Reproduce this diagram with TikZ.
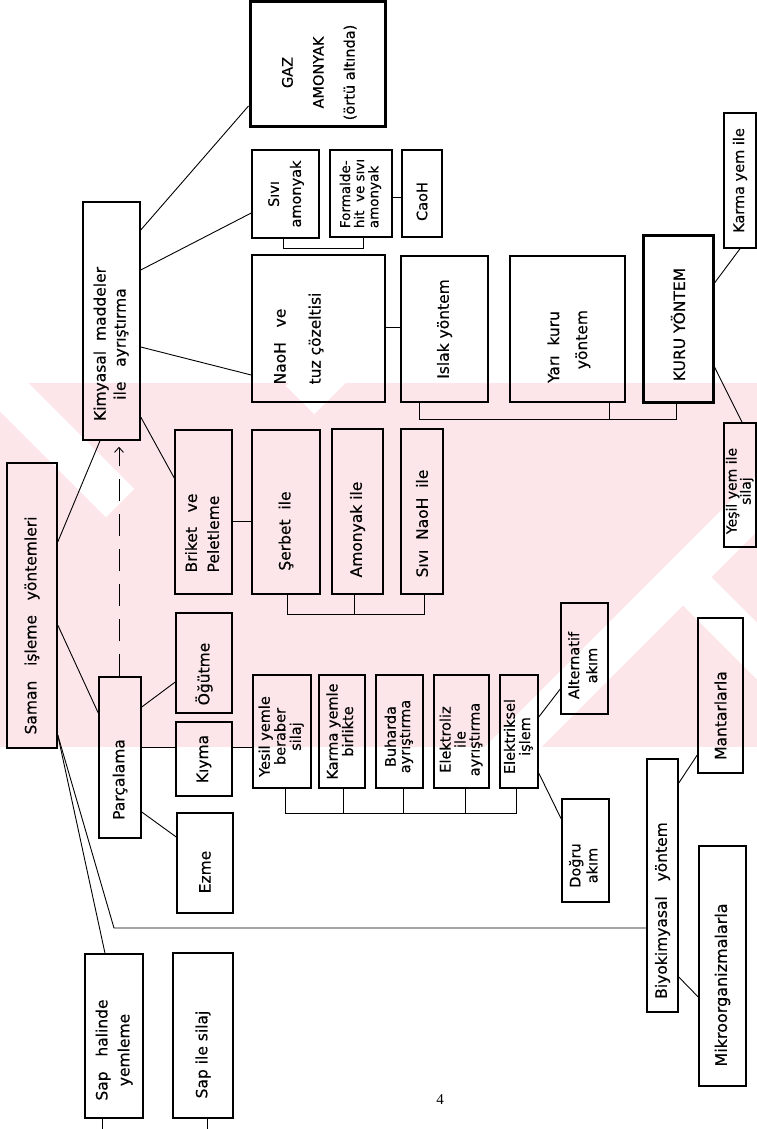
\documentclass[tikz,border=0pt]{standalone}
\usepackage{fontspec}
\setmainfont{DejaVu Sans}[FakeBold=0.4]
\newfontfamily\pgserif{Liberation Serif}
\usetikzlibrary{arrows.meta}
\definecolor{wmpink}{HTML}{FCE6EA}
\tikzset{
  bx/.style={draw, line width=1.5pt, inner sep=0pt, rectangle},
  thickbx/.style={line width=3pt},
  ln/.style={line width=0.9pt},
  dasharrow/.style={line width=0.9pt, dash pattern=on 22pt off 13pt, -{Straight Barb[length=5pt,width=9pt]}},
  fa/.style={font=\fontsize{15.5}{20}\selectfont},
}
\newcommand{\ctab}[1]{\begin{tabular}{@{}c@{}}#1\end{tabular}}
\newcommand{\ltab}[1]{\begin{tabular}{@{}l@{}}#1\end{tabular}}
\newcommand{\sh}[1]{\hspace*{#1pt}}
\newcommand{\bx}[7][]{\node[bx,fa,#1,minimum width={(#5)-(#3)},minimum height={(#6)-(#4)}] (#2) at ({((#3)+(#5))/2},{((#4)+(#6))/2}) {\rotatebox{90}{#7}};}
\begin{document}
\begin{tikzpicture}[x=1pt,y=-1pt]
\useasboundingbox (0,0) rectangle (757,1129);
% watermark
\begin{scope}
\clip (0,383) rectangle (757,747);
\fill[wmpink] (0,383) rectangle (757,747);
\draw[white,line width=40pt] (300,400) -- (900,-200);
\draw[white,line width=40pt] (1260,0) -- (300,960);
\draw[white,line width=40pt] (683,577) -- (900,794);
\draw[white,line width=40pt] (0,383) -- (120,503);
\end{scope}
% boxes
\bx[thickbx]{gaz}{250}{2}{385}{127}{\fontsize{14.5}{31}\selectfont\ctab{GAZ\\AMONYAK\\(örtü altında)}\sh{16}}
\bx{kim}{83}{202}{140}{440}{\fontsize{15.5}{20}\selectfont\ctab{Kimyasal~~maddeler\\ile~~~ayrıştırma}\sh{46}}
\bx{samo}{252}{150}{319}{238}{\fontsize{14.5}{22}\selectfont\ctab{Sıvı\\amonyak}}
\bx{form}{330}{150}{392}{237}{\fontsize{13.5}{13}\selectfont\ltab{Formalde-\\hit~ ve sıvı\\amonyak}}
\bx{caoh}{402}{150}{442}{237}{\fontsize{14.5}{16}\selectfont CaoH\sh{16}}
\bx{naoh}{252}{255}{385}{402}{\fontsize{15.5}{35}\selectfont\ltab{NaoH~~~ve\\tuz çözeltisi\\[10pt]\mbox{}}\sh{20}}
\bx{isl}{401}{256}{488}{402}{Islak yöntem}
\bx{yari}{510}{256}{625}{402}{\fontsize{15.5}{28}\selectfont\ctab{Yarı~~kuru\\~~~yöntem}\sh{36}}
\bx[thickbx]{kuru}{643}{235}{713}{402}{KURU YÖNTEM\sh{12}}
\bx{karma}{724}{113}{756}{248}{\fontsize{14.5}{16}\selectfont Karma yem ile}
\bx{yesil}{724}{423}{756}{547}{\fontsize{14}{11.5}\selectfont\ctab{Yeşil yem ile\\silaj}\sh{12}}
\bx{bri}{175}{430}{232}{594}{\fontsize{15.5}{22}\selectfont\ltab{Briket~~ ve\\Peletleme}\sh{42}}
\bx{ser}{252}{430}{320}{594}{Şerbet~~ile\sh{38}}
\bx{amy}{332}{429}{383}{594}{Amonyak ile\sh{36}}
\bx{sna}{401}{429}{443}{594}{Sıvı~~NaoH~~ile\sh{24}}
\bx{saman}{7}{463}{57}{748}{Saman~~~işleme~~~yöntemleri\sh{40}}
\bx{parc}{99}{677}{141}{838}{Parçalama\sh{44}}
\bx{ogut}{176}{613}{232}{713}{Öğütme\sh{22}}
\bx{kiyma}{176}{722}{232}{796}{Kıyma}
\bx{ezme}{177}{813}{233}{913}{Ezme\sh{18}}
\bx{yy}{253}{675}{311}{788}{\fontsize{14.5}{15}\selectfont\ctab{Yesil yemle\\beraber\\silaj}\sh{10}}
\bx{ky}{319}{675}{365}{788}{\fontsize{14.5}{15}\selectfont\ctab{Karma yemle\\birlikte}}
\bx{buh}{376}{675}{423}{788}{\fontsize{14.5}{14}\selectfont\ctab{Buharda\\ayrıştırma}\sh{10}}
\bx{elz}{434}{675}{489}{788}{\fontsize{14.5}{13}\selectfont\ctab{Elektroliz\\ile\\ayrıştırma}\sh{16}}
\bx{ek}{500}{675}{538}{788}{\fontsize{14.5}{14}\selectfont\ctab{Elektriksel\\işlem}\sh{10}}
\bx{alt}{561}{603}{608}{714}{\fontsize{14.5}{18}\selectfont\ctab{Alternatif\\akım}\sh{14}}
\bx{dog}{562}{799}{609}{902}{\fontsize{14.5}{17}\selectfont\ctab{Doğru\\akım}\sh{30}}
\bx{biyo}{647}{759}{678}{1012}{Biyokimyasal~~~yöntem\sh{50}}
\bx{man}{698}{618}{743}{773}{Mantarlarla\sh{40}}
\bx{mik}{699}{846}{746}{1086}{\fontsize{16}{20}\selectfont Mikroorganizmalarla\sh{38}}
\bx{saphal}{85}{954}{143}{1118}{\fontsize{15.5}{22}\selectfont\ctab{Sap~~ halinde\\yemleme}\sh{28}}
\bx{sapsil}{173}{953}{233}{1118}{Sap ile silaj\sh{38}}
\node[font=\pgserif\fontsize{15}{15}\selectfont] (pg) at (440,1100) {4};
% connectors
\draw[ln] (kim.east |- 0,230) -- (gaz.west |- 0,106);
\draw[ln] (kim.east |- 0,270) -- (samo.west |- 0,213);
\draw[ln] (kim.east |- 0,347) -- (naoh.west |- 0,375);
\draw[ln] (kim.east |- 0,417) -- (bri.west |- 0,478);
\draw[ln] (saman.east |- 0,542) -- (kim.south -| 100,0);
\draw[ln] (saman.east |- 0,625) -- (parc.west |- 0,713);
\draw[dasharrow, shorten >=6pt] (parc.north -| 119,0) -- (kim.south -| 119,0);
\draw[ln] (parc.east |- 0,707) -- (ogut.west |- 0,682);
\draw[ln] (parc.east |- 0,747) -- (kiyma.west |- 0,747);
\draw[ln] (kiyma.east |- 0,747) -- (yy.west |- 0,747);
\draw[ln] (parc.east |- 0,812) -- (ezme.west |- 0,837);
\draw[ln] (bri.east |- 0,521) -- (ser.west |- 0,521);
\draw[ln] (ser.south -| 287,0) -- ++(0,20) -| (sna.south -| 424,0);
\draw[ln] (amy.south -| 354,0) -- ++(0,20);
\draw[ln] (samo.south -| 283,0) -- ++(0,10) -| (form.south -| 363,0);
\draw[ln] (form.east |- 0,197) -- (caoh.west |- 0,197);
\draw[ln] (naoh.east |- 0,327) -- (isl.west |- 0,327);
\draw[ln] (isl.south -| 419,0) -- ++(0,17) -| (kuru.south -| 676,0);
\draw[ln] (yari.south -| 609,0) -- ++(0,17);
\draw[ln] (kuru.east |- 0,283) -- (karma.south -| 740,0);
\draw[ln] (kuru.east |- 0,367) -- (yesil.north -| 742,0);
\draw[ln] (yy.south -| 285,0) -- ++(0,25) -| (ek.south -| 516,0);
\draw[ln] (ky.south -| 343,0) -- ++(0,25);
\draw[ln] (buh.south -| 403,0) -- ++(0,25);
\draw[ln] (elz.south -| 465,0) -- ++(0,25);
\draw[ln] (ek.east |- 0,717) -- (alt.west |- 0,689);
\draw[ln] (ek.east |- 0,773) -- (dog.west |- 0,819);
\draw[ln] (biyo.east |- 0,783) -- (man.west |- 0,755);
\draw[ln] (biyo.east |- 0,977) -- (mik.west |- 0,997);
\coordinate (bend) at (114,928);
\coordinate (e1) at (102,1129);
\coordinate (e2) at (207,1129);
\draw[ln] (saman.east |- 0,735) -- (saphal.north -| 105,0);
\draw[ln] (saman.east |- 0,735) -- (bend) -- (biyo.west |- bend);
\draw[ln] (saphal.south -| e1) -- (e1);
\draw[ln] (sapsil.south -| e2) -- (e2);
\end{tikzpicture}
\end{document}
